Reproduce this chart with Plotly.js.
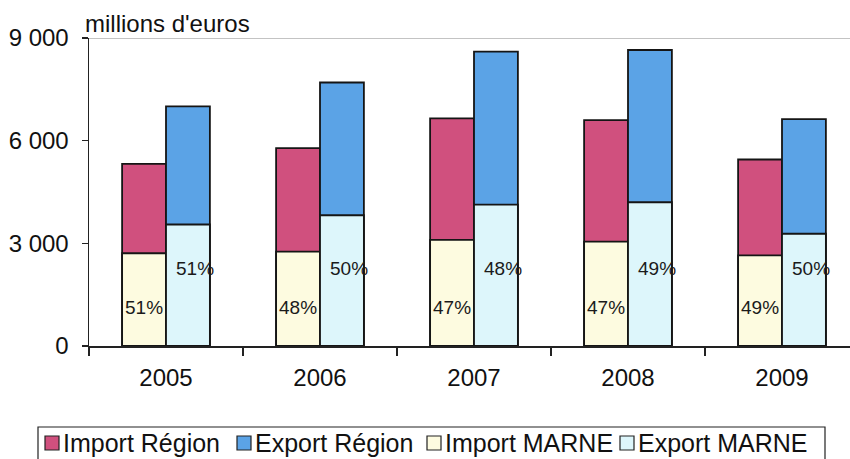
<!DOCTYPE html>
<html>
<head>
<meta charset="utf-8">
<script src="https://cdn.plot.ly/plotly-3.0.1.min.js"></script>
<style>
html, body { margin: 0; padding: 0; background: #fff; overflow: hidden; }
#chart { width: 860px; height: 459px; }
</style>
</head>
<body>
<div id="chart"></div>
<script>
// Data (millions d'euros)
const years = ['2005', '2006', '2007', '2008', '2009'];
const importRegion = [5320, 5780, 6650, 6600, 5450];
const exportRegion = [7000, 7700, 8600, 8650, 6630];
const importMarne = [2710, 2760, 3100, 3050, 2650];
const exportMarne = [3550, 3820, 4130, 4200, 3280];
const importPct = ['51%', '48%', '47%', '47%', '49%'];
const exportPct = ['51%', '50%', '48%', '49%', '50%'];
const yTickVals = [0, 3000, 6000, 9000];
const yTickText = ['0', '3 000', '6 000', '9 000'];
const seriesNames = ['Import Région', 'Export Région', 'Import MARNE', 'Export MARNE'];

const FONT = '"Liberation Sans", Arial, sans-serif';
const colors = ['#D0507E', '#5BA3E6', '#FDFBE0', '#DDF6FB'];
const outline = { color: '#151515', width: 1.8 };

const traces = [
  { type: 'bar', name: seriesNames[0], x: years, y: importRegion, offsetgroup: 'imp',
    marker: { color: colors[0], line: outline } },
  { type: 'bar', name: seriesNames[1], x: years, y: exportRegion, offsetgroup: 'exp',
    marker: { color: colors[1], line: outline } },
  { type: 'bar', name: seriesNames[2], x: years, y: importMarne, offsetgroup: 'imp',
    marker: { color: colors[2], line: outline } },
  { type: 'bar', name: seriesNames[3], x: years, y: exportMarne, offsetgroup: 'exp',
    marker: { color: colors[3], line: outline } }
];

// plot area geometry (px) used to place the custom legend
const PL = 89, PW = 770, PT = 38, PH = 308, PB = PT + PH;
const px2x = p => (p - PL) / PW;
const px2y = p => (PB - p) / PH;

const annotations = [];
const shapes = [];
years.forEach((yr, i) => {
  annotations.push({ x: i, y: 0, xref: 'x', yref: 'y', text: importPct[i], showarrow: false,
    xshift: -22, yshift: 39, font: { family: FONT, size: 19, color: '#1a1a1a' } });
  annotations.push({ x: i, y: 0, xref: 'x', yref: 'y', text: exportPct[i], showarrow: false,
    xshift: 29, yshift: 78, font: { family: FONT, size: 19, color: '#1a1a1a' } });
});
annotations.push({ x: 0, y: 1, xref: 'paper', yref: 'paper', xanchor: 'left', yanchor: 'bottom',
  xshift: -6, yshift: -1, text: "millions d'euros", showarrow: false,
  font: { family: FONT, size: 24, color: '#111' } });

// top border line of plot area
shapes.push({ type: 'line', xref: 'paper', yref: 'y', x0: 0, x1: 1, y0: 9000, y1: 9000,
  line: { color: '#888', width: 1.2 } });

// custom legend (compact, like the original)
shapes.push({ type: 'rect', xref: 'paper', yref: 'paper',
  x0: px2x(38), x1: px2x(825), y0: px2y(427), y1: px2y(475),
  line: { color: '#222', width: 1.2 }, fillcolor: 'rgba(0,0,0,0)' });
const legSquareLeft = [45, 237, 427, 620];
seriesNames.forEach((nm, i) => {
  const l = legSquareLeft[i];
  shapes.push({ type: 'rect', xref: 'paper', yref: 'paper',
    x0: px2x(l), x1: px2x(l + 14), y0: px2y(450), y1: px2y(436),
    line: { color: '#222', width: 1.2 }, fillcolor: colors[i] });
  annotations.push({ x: px2x(l + 16), y: px2y(443), xref: 'paper', yref: 'paper',
    xanchor: 'left', yanchor: 'middle', text: nm, showarrow: false,
    font: { family: FONT, size: 25, color: '#111' } });
});

const layout = {
  width: 860, height: 459,
  margin: { l: PL, r: 1, t: PT, b: 459 - PB, pad: 0, autoexpand: false },
  paper_bgcolor: '#fff', plot_bgcolor: '#fff',
  font: { family: FONT, size: 24, color: '#111' },
  barmode: 'group', bargap: 0.43, bargroupgap: 0,
  showlegend: false,
  xaxis: { type: 'category', showline: true, linecolor: '#222', linewidth: 1.5,
    ticks: 'outside', tickson: 'boundaries', ticklen: 8, tickcolor: '#222', tickwidth: 1.5,
    showgrid: false, zeroline: false, ticklabelstandoff: 10, automargin: false,
    tickfont: { family: FONT, size: 24, color: '#111' } },
  yaxis: { range: [0, 9000], showline: true, linecolor: '#222', linewidth: 1.5,
    ticks: 'outside', ticklen: 6, tickcolor: '#222', tickwidth: 1.5,
    tickvals: yTickVals, ticktext: yTickText, showgrid: false, zeroline: false,
    automargin: false, ticklabelstandoff: 8,
    tickfont: { family: FONT, size: 24, color: '#111' } },
  shapes: shapes,
  annotations: annotations
};

Plotly.newPlot('chart', traces, layout, { displayModeBar: false, staticPlot: true });
</script>
</body>
</html>
